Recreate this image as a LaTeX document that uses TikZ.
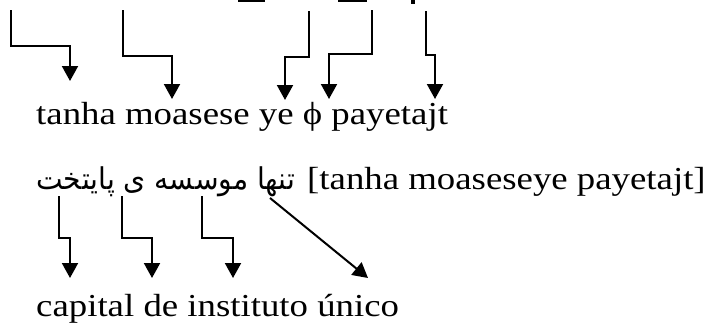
\documentclass[tikz,border=0pt]{standalone}
\usepackage{fontspec}
\usepackage{graphicx}
\setmainfont{Liberation Serif}[FakeStretch=1.15]
\newfontfamily\arabicfont[Script=Arabic]{DejaVu Sans}
\TeXXeTstate=1
\usetikzlibrary{arrows.meta}
\begin{document}
\begin{tikzpicture}[x=1pt,y=-1pt,
  lbl/.style={inner sep=0pt, anchor=base west, font=\fontsize{32}{38}\selectfont},
  conn/.style={line width=2pt, -{Triangle[length=15pt,width=16pt]}},
  frag/.style={fill=black, draw=none}]
\useasboundingbox (0,0) rectangle (709,327);
% fragments of the cut-off line above
\fill[frag] (238,0) rectangle (265,2);
\fill[frag] (338,0) rectangle (367,2);
\fill[frag] (411,0) rectangle (415,4);
% text lines
\node[lbl] (l1) at (36,124) {tanha moasese ye ϕ payetajt};
\node[lbl] (l2p) at (36,189) {\resizebox{259pt}{\height}{\arabicfont\fontsize{30}{36}\selectfont\beginR تنها موسسه ی پایتخت\endR}};
\node[lbl] (l2l) at (307,189) {[tanha moaseseye payetajt]};
\node[lbl] (l3) at (36,316) {capital de instituto único};
% top arrows
\coordinate (a1s) at (11,10);  \coordinate (a1e) at (70,81);
\coordinate (a2s) at (123,10); \coordinate (a2e) at (172,99);
\coordinate (a3s) at (309,11); \coordinate (a3e) at (285,100);
\coordinate (a4s) at (372,10); \coordinate (a4e) at (329,99);
\coordinate (a5s) at (426,11); \coordinate (a5e) at (435,99);
\draw[conn] (a1s) -- (11,46) -| (a1e);
\draw[conn] (a2s) -- (123,56) -| (a2e);
\draw[conn] (a3s) -- (309,57) -| (a3e);
\draw[conn] (a4s) -- (372,54) -| (a4e);
\draw[conn] (a5s) -- (426,55) -| (a5e);
% bottom arrows
\coordinate (b1s) at (59,196);  \coordinate (b1e) at (70,278);
\coordinate (b2s) at (122,196); \coordinate (b2e) at (152,278);
\coordinate (b3s) at (202,196); \coordinate (b3e) at (233,278);
\coordinate (b4s) at (270,198); \coordinate (b4e) at (368,278);
\draw[conn] (b1s) -- (59,238) -| (b1e);
\draw[conn] (b2s) -- (122,238) -| (b2e);
\draw[conn] (b3s) -- (202,238) -| (b3e);
\draw[conn] (b4s) -- (b4e);
\end{tikzpicture}
\end{document}
